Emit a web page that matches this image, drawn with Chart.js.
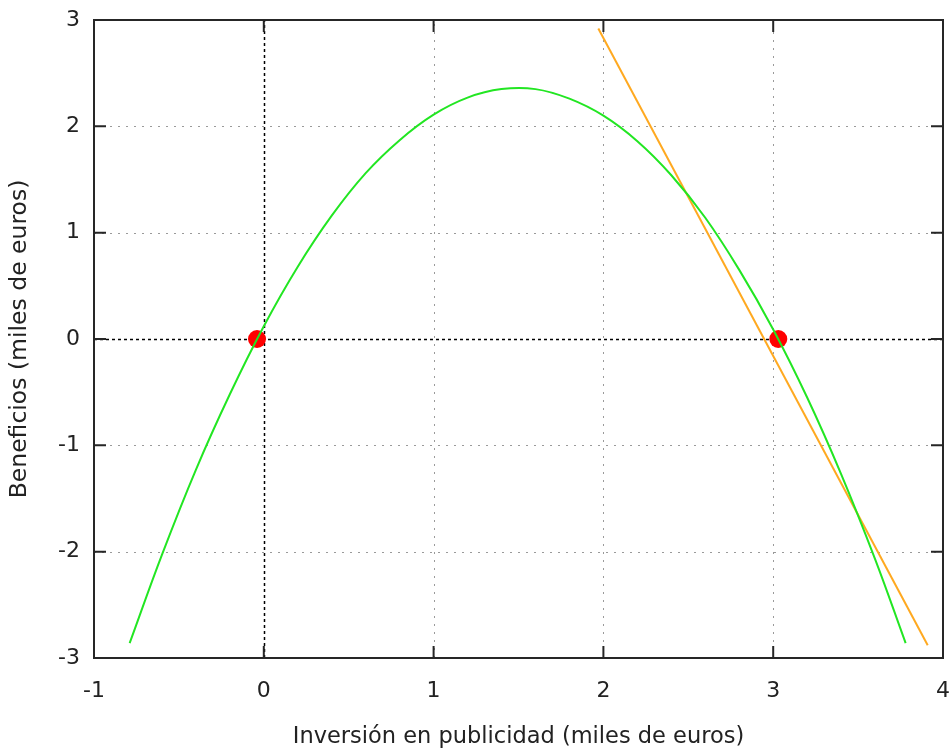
<!DOCTYPE html>
<html>
<head>
<meta charset="utf-8">
<script src="https://cdn.jsdelivr.net/npm/chart.js@4.4.1/dist/chart.umd.min.js"></script>
<style>
  body { margin: 0; background: #fff; }
</style>
</head>
<body>
<canvas id="myChart" width="952" height="751"></canvas>
<script>
// values
const curveX = [-0.79, -0.6, -0.4, -0.2, 0, 0.2, 0.4, 0.6, 0.8, 1.0, 1.2, 1.4, 1.6, 1.8, 2.0, 2.2, 2.4, 2.6, 2.8, 3.0, 3.2, 3.4, 3.6, 3.78];
const curveY = [-2.86, -2.03, -1.23, -0.52, 0.12, 0.68, 1.16, 1.56, 1.87, 2.11, 2.27, 2.35, 2.35, 2.26, 2.10, 1.86, 1.54, 1.14, 0.65, 0.09, -0.55, -1.27, -2.07, -2.86];
const tangentX = [1.97, 3.91];
const tangentY = [2.92, -2.88];
const rootX = [-0.04, 3.03];
const rootY = [0, 0];
const xTicks = [-1, 0, 1, 2, 3, 4];
const yTicks = [-3, -2, -1, 0, 1, 2, 3];

const FONT = "'DejaVu Sans', sans-serif";

function toPoints(xs, ys) {
  return xs.map((x, i) => ({ x: x, y: ys[i] }));
}

// gnuplot-like frame: dotted grid, dashed zero axes, border with inward ticks
const gnuplotFrame = {
  id: 'gnuplotFrame',
  beforeDatasetsDraw(chart) {
    const ctx = chart.ctx, a = chart.chartArea;
    const sx = chart.scales.x, sy = chart.scales.y;
    ctx.save();
    xTicks.forEach(v => {
      const px = Math.round(sx.getPixelForValue(v)) + 0.5;
      if (v === 0) { ctx.strokeStyle = '#000'; ctx.lineWidth = 1.5; ctx.setLineDash([3, 3]); }
      else { ctx.strokeStyle = '#9a9a9a'; ctx.lineWidth = 1; ctx.setLineDash([2, 6]); }
      ctx.beginPath(); ctx.moveTo(px, a.bottom); ctx.lineTo(px, a.top); ctx.stroke();
    });
    yTicks.forEach(v => {
      const py = Math.round(sy.getPixelForValue(v)) + 0.5;
      if (v === 0) { ctx.strokeStyle = '#000'; ctx.lineWidth = 1.5; ctx.setLineDash([3, 3]); }
      else { ctx.strokeStyle = '#9a9a9a'; ctx.lineWidth = 1; ctx.setLineDash([2, 6]); }
      ctx.beginPath(); ctx.moveTo(a.left, py); ctx.lineTo(a.right, py); ctx.stroke();
    });
    ctx.restore();
  },
  afterDatasetsDraw(chart) {
    const ctx = chart.ctx, a = chart.chartArea;
    const sx = chart.scales.x, sy = chart.scales.y;
    const tl = 12;
    ctx.save();
    ctx.strokeStyle = '#262626';
    ctx.lineWidth = 2;
    ctx.setLineDash([]);
    ctx.strokeRect(a.left, a.top, a.right - a.left, a.bottom - a.top);
    ctx.beginPath();
    xTicks.forEach(v => {
      const px = sx.getPixelForValue(v);
      ctx.moveTo(px, a.bottom); ctx.lineTo(px, a.bottom - tl);
      ctx.moveTo(px, a.top); ctx.lineTo(px, a.top + tl);
    });
    yTicks.forEach(v => {
      const py = sy.getPixelForValue(v);
      ctx.moveTo(a.left, py); ctx.lineTo(a.left + tl, py);
      ctx.moveTo(a.right, py); ctx.lineTo(a.right - tl, py);
    });
    ctx.stroke();
    ctx.restore();
  }
};

const ctx = document.getElementById('myChart').getContext('2d');
const myChart = new Chart(ctx, {
  type: 'scatter',
  data: {
    datasets: [
      {
        label: 'Beneficios',
        data: toPoints(curveX, curveY),
        showLine: true,
        borderColor: '#22e622',
        borderWidth: 2,
        pointRadius: 0,
        tension: 0.4,
        fill: false
      },
      {
        label: 'Tangente',
        data: toPoints(tangentX, tangentY),
        showLine: true,
        borderColor: '#ffa920',
        borderWidth: 2,
        pointRadius: 0,
        fill: false
      },
      {
        label: 'Raices',
        data: toPoints(rootX, rootY),
        showLine: false,
        backgroundColor: '#ff0000',
        borderColor: '#ff0000',
        pointRadius: 9,
        borderWidth: 0
      }
    ]
  },
  options: {
    responsive: false,
    animation: false,
    layout: { padding: { top: 20, right: 7, left: 0, bottom: 0 } },
    plugins: {
      legend: { display: false },
      tooltip: { enabled: false }
    },
    scales: {
      x: {
        type: 'linear',
        min: -1, max: 4,
        afterBuildTicks: s => { s.ticks = xTicks.map(v => ({ value: v })); },
        afterFit: s => { s.height = 93; s.paddingLeft = 0; s.paddingRight = 0; },
        grid: { display: false, drawTicks: false },
        border: { display: false },
        ticks: { color: '#222', font: { family: FONT, size: 22 }, padding: 20 },
        title: {
          display: true,
          text: 'Inversión en publicidad (miles de euros)',
          color: '#222',
          font: { family: FONT, size: 22.5, weight: 'normal' },
          padding: { top: 0, bottom: 0 }
        }
      },
      y: {
        type: 'linear',
        min: -3, max: 3,
        afterBuildTicks: s => { s.ticks = yTicks.map(v => ({ value: v })); },
        afterFit: s => { s.width = 94; s.paddingTop = 0; s.paddingBottom = 0; },
        grid: { display: false, drawTicks: false },
        border: { display: false },
        ticks: { color: '#222', font: { family: FONT, size: 22 }, padding: 14 },
        title: {
          display: true,
          text: 'Beneficios (miles de euros)',
          color: '#222',
          font: { family: FONT, size: 23.5, weight: 'normal' },
          padding: { top: 6, bottom: 0 }
        }
      }
    }
  },
  plugins: [gnuplotFrame]
});
</script>
</body>
</html>
